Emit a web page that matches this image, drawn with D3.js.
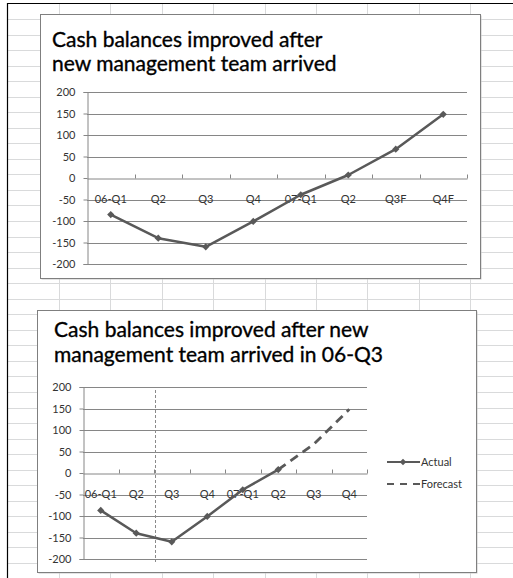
<!DOCTYPE html>
<html>
<head>
<meta charset="utf-8">
<script src="https://cdn.jsdelivr.net/npm/d3@7"></script>
<style>
  html, body { margin: 0; padding: 0; background: #fff; }
  svg { display: block; }
  text { font-family: Lato, "Open Sans", sans-serif; }
</style>
</head>
<body>
<svg id="c" width="513" height="578"></svg>
<script>
// ---- data ----
const title1 = ["Cash balances improved after", "new management team arrived"];
const title2 = ["Cash balances improved after new", "management team arrived in 06-Q3"];
const categories1 = ["06-Q1", "Q2", "Q3", "Q4", "07-Q1", "Q2", "Q3F", "Q4F"];
const values1 = [-85, -140, -160, -101, -39, 7, 67, 148];
const categories2 = ["06-Q1", "Q2", "Q3", "Q4", "07-Q1", "Q2", "Q3", "Q4"];
const actual2 = [-87, -140, -160, -101, -39, 8, null, null];
const forecast2 = [null, null, null, null, null, 8, 67, 148];
const yTicks = [-200, -150, -100, -50, 0, 50, 100, 150, 200];
const legendLabels = ["Actual", "Forecast"];
const dividerAfterIndex = 2; // "management arrived" marker before 06-Q3

const svg = d3.select("#c");
const W = 513, H = 578;
const gridColor = "#d9dadb";
const lineColor = "#595959";
const axisColor = "#868686";
const textColor = "#333";

// ---- spreadsheet background ----
const colX = d3.range(9).map(i => 59 + i * 51.4);
const rowY = d3.range(36).map(i => 19 + i * 15.54);
const bg = svg.append("g");
bg.selectAll("line.v").data(colX).join("line")
  .attr("x1", d => Math.round(d) + 0.5).attr("x2", d => Math.round(d) + 0.5)
  .attr("y1", 3).attr("y2", H).attr("stroke", gridColor).attr("stroke-width", 1);
bg.selectAll("line.h").data(rowY).join("line")
  .attr("x1", 7).attr("x2", W)
  .attr("y1", d => Math.round(d) + 0.5).attr("y2", d => Math.round(d) + 0.5)
  .attr("stroke", gridColor).attr("stroke-width", 1);
bg.append("line").attr("x1", 7).attr("x2", W).attr("y1", 3.5).attr("y2", 3.5).attr("stroke", "#000").attr("stroke-width", 1.2);
bg.append("line").attr("x1", 7.5).attr("x2", 7.5).attr("y1", 3).attr("y2", H).attr("stroke", "#000").attr("stroke-width", 1.2);

function drawChart(cfg) {
  const g = svg.append("g");
  // box
  g.append("rect").attr("x", cfg.box[0] + 1.5).attr("y", cfg.box[1] + 1.5)
    .attr("width", cfg.box[2]).attr("height", cfg.box[3]).attr("fill", "#c8c8c8");
  g.append("rect").attr("x", cfg.box[0] + 0.5).attr("y", cfg.box[1] + 0.5)
    .attr("width", cfg.box[2]).attr("height", cfg.box[3])
    .attr("fill", "#fff").attr("stroke", "#7f7f7f").attr("stroke-width", 1);
  // title
  cfg.title.forEach((t, i) => {
    g.append("text").attr("x", cfg.titleX).attr("y", cfg.titleY + i * cfg.titleGap)
      .attr("font-size", 21).attr("fill", "#000")
      .attr("stroke", "#000").attr("stroke-width", 0.35).text(t);
  });
  const n = cfg.categories.length;
  const x = d3.scaleBand().domain(d3.range(n)).range([cfg.x0, cfg.x1]).padding(0);
  const xl = d3.scaleLinear().domain([0, n]).range([cfg.x0, cfg.x1]);
  const y = d3.scaleLinear().domain([-200, 200]).range([cfg.yBottom, cfg.yTop]);

  // gridlines
  g.append("g").selectAll("line").data(yTicks.filter(v => v !== 0)).join("line")
    .attr("x1", cfg.x0).attr("x2", cfg.x1)
    .attr("y1", d => Math.round(y(d)) + 0.5).attr("y2", d => Math.round(y(d)) + 0.5)
    .attr("stroke", axisColor).attr("stroke-width", 1);

  // y axis
  const ya = g.append("g").attr("transform", `translate(${cfg.x0 + 0.5},0)`)
    .call(d3.axisLeft(y).tickValues(yTicks).tickSize(4).tickPadding(8).tickFormat(d => String(d)));
  ya.selectAll("path,line").attr("stroke", axisColor);
  ya.selectAll("text").attr("font-size", 11).attr("fill", textColor).attr("font-family", "Lato, sans-serif");

  // x axis labels
  const y0 = Math.round(y(0)) + 0.5;
  const xa = g.append("g").attr("transform", `translate(0,${y0})`)
    .call(d3.axisBottom(x).tickSize(0).tickPadding(17).tickFormat(i => cfg.categories[i]));
  xa.select("path").attr("stroke", axisColor);
  xa.selectAll("text").attr("font-size", 11).attr("fill", textColor).attr("font-family", "Lato, sans-serif");
  // x ticks at band boundaries
  g.append("g").selectAll("line").data(d3.range(1, n + 1)).join("line")
    .attr("x1", d => Math.round(xl(d)) + 0.5).attr("x2", d => Math.round(xl(d)) + 0.5)
    .attr("y1", y0 - 4).attr("y2", y0).attr("stroke", axisColor);

  if (cfg.divider != null) {
    const dx = Math.round(xl(cfg.divider)) + 1.5;
    g.append("line").attr("x1", dx).attr("x2", dx)
      .attr("y1", cfg.yTop + 3).attr("y2", cfg.yBottom + 3)
      .attr("stroke", "#8a8a8a").attr("stroke-width", 1).attr("stroke-dasharray", "3,2");
  }

  const line = d3.line().defined(d => d.v != null)
    .x(d => x(d.i) + x.bandwidth() / 2).y(d => y(d.v));
  cfg.series.forEach(s => {
    const pts = s.values.map((v, i) => ({ i, v }));
    g.append("path").datum(pts).attr("d", line)
      .attr("fill", "none").attr("stroke", lineColor).attr("stroke-width", s.dashed ? 2.8 : 2.5)
      .attr("stroke-linejoin", "round")
      .attr("stroke-dasharray", s.dashed ? "9,6" : null);
    if (s.markers) {
      g.append("g").selectAll("path").data(pts.filter(d => d.v != null)).join("path")
        .attr("d", d3.symbol(d3.symbolSquare, 26))
        .attr("transform", d => `translate(${x(d.i) + x.bandwidth() / 2},${y(d.v)}) rotate(45)`)
        .attr("fill", lineColor);
    }
  });

  if (cfg.legend) {
    const L = cfg.legend;
    cfg.series.forEach((s, k) => {
      const ly = L.y + k * L.gap;
      g.append("line").attr("x1", L.x).attr("x2", L.x + 33).attr("y1", ly).attr("y2", ly)
        .attr("stroke", lineColor).attr("stroke-width", 2)
        .attr("stroke-dasharray", s.dashed ? "7,6" : null);
      if (s.markers) {
        g.append("path").attr("d", d3.symbol(d3.symbolSquare, 22))
          .attr("transform", `translate(${L.x + 16},${ly}) rotate(45)`).attr("fill", lineColor);
      }
      g.append("text").attr("x", L.x + 34).attr("y", ly + 4).attr("font-size", 11)
        .attr("fill", textColor).text(legendLabels[k]);
    });
  }
}

drawChart({
  box: [40, 14, 440, 264],
  title: title1, titleX: 52, titleY: 47, titleGap: 24,
  categories: categories1,
  x0: 87, x1: 467, yTop: 92, yBottom: 264,
  series: [{ values: values1, markers: true }]
});

drawChart({
  box: [37, 310, 439, 262],
  title: title2, titleX: 54, titleY: 337, titleGap: 25,
  categories: categories2,
  x0: 83, x1: 367, yTop: 387, yBottom: 559,
  divider: dividerAfterIndex,
  series: [{ values: actual2, markers: true }, { values: forecast2, dashed: true }],
  legend: { x: 387, y: 462, gap: 22 }
});
</script>
</body>
</html>
